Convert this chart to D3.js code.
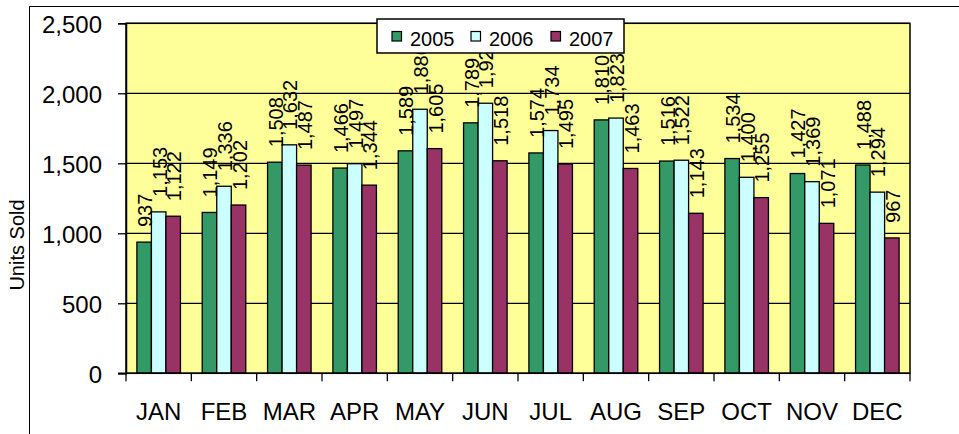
<!DOCTYPE html>
<html>
<head>
<meta charset="utf-8">
<script src="https://cdn.jsdelivr.net/npm/d3@7"></script>
<style>
  html, body { margin: 0; padding: 0; background: #ffffff; }
  svg { display: block; font-family: Arial, "Liberation Sans", sans-serif; }
</style>
</head>
<body>
<svg id="chart" width="959" height="434"></svg>
<script>
const months = ["JAN","FEB","MAR","APR","MAY","JUN","JUL","AUG","SEP","OCT","NOV","DEC"];
const seriesNames = ["2005","2006","2007"];
const values2005 = [937,1149,1508,1466,1589,1789,1574,1810,1516,1534,1427,1488];
const values2006 = [1153,1336,1632,1497,1886,1929,1734,1823,1522,1400,1369,1294];
const values2007 = [1122,1202,1487,1344,1605,1518,1495,1463,1143,1255,1071,967];
const yTicks = [0,500,1000,1500,2000,2500];
const yTitle = "Units Sold";
const colors = ["#339966","#CCFFFF","#993366"];

const seriesValues = [values2005, values2006, values2007];

const svg = d3.select("#chart");
const plot = {left: 126, right: 910, top: 23.3, bottom: 373.3};

// outer chart frame
svg.append("rect")
  .attr("x", 29.5).attr("y", 6.5)
  .attr("width", 1000).attr("height", 500)
  .attr("fill", "#ffffff").attr("stroke", "#000").attr("stroke-width", 1);

const x0 = d3.scaleBand().domain(months).range([plot.left, plot.right]).paddingInner(0).paddingOuter(0);
// gap width 150%: group occupies 3/(3+1.5) of the category
const groupW = x0.bandwidth() * 3 / 4.5;
const x1 = d3.scaleBand().domain(seriesNames).range([0, groupW]).padding(0);
const y = d3.scaleLinear().domain([0, 2500]).range([plot.bottom, plot.top]);

// plot background
svg.append("rect")
  .attr("x", plot.left).attr("y", plot.top)
  .attr("width", plot.right - plot.left).attr("height", plot.bottom - plot.top)
  .attr("fill", "#FFFF99");

// gridlines
svg.append("g").selectAll("line").data(yTicks.filter(d => d > 0)).join("line")
  .attr("x1", plot.left).attr("x2", plot.right)
  .attr("y1", d => y(d)).attr("y2", d => y(d))
  .attr("stroke", "#000").attr("stroke-width", 1.2);

// bars
const groups = svg.append("g").selectAll("g").data(months).join("g")
  .attr("transform", d => `translate(${x0(d) + (x0.bandwidth() - groupW) / 2},0)`);

seriesNames.forEach((s, si) => {
  groups.append("rect")
    .attr("x", x1(s))
    .attr("y", (d, i) => y(seriesValues[si][i]))
    .attr("width", x1.bandwidth())
    .attr("height", (d, i) => y(0) - y(seriesValues[si][i]))
    .attr("fill", colors[si])
    .attr("stroke", "#000").attr("stroke-width", 1.3);
});

// data labels (rotated)
const fmt = d3.format(",");
seriesNames.forEach((s, si) => {
  groups.append("text")
    .attr("transform", (d, i) => {
      const cx = x1(s) + x1.bandwidth() / 2;
      const ty = y(seriesValues[si][i]) - 15;
      return `translate(${cx + 8},${ty}) rotate(-90)`;
    })
    .attr("text-anchor", "start")
    .attr("font-size", 20)
    .attr("fill", "#000")
    .text((d, i) => fmt(seriesValues[si][i]));
});

// plot border
svg.append("rect")
  .attr("x", plot.left).attr("y", plot.top)
  .attr("width", plot.right - plot.left).attr("height", plot.bottom - plot.top)
  .attr("fill", "none").attr("stroke", "#000").attr("stroke-width", 1.5);

// y axis
const yAxis = d3.axisLeft(y).tickValues(yTicks).tickSize(8).tickPadding(16).tickFormat(d3.format(","));
const gy = svg.append("g").attr("transform", `translate(${plot.left},0)`).call(yAxis);
gy.select(".domain").attr("stroke", "#000").attr("stroke-width", 1.5);
gy.selectAll(".tick line").attr("stroke", "#000").attr("stroke-width", 1.3);
gy.selectAll(".tick text").attr("font-size", 24).attr("dy", "0.4em").attr("font-family", "Arial, 'Liberation Sans', sans-serif").attr("fill", "#000");

// x axis
const xAxis = d3.axisBottom(x0).tickSize(0).tickPadding(30);
const gx = svg.append("g").attr("transform", `translate(0,${plot.bottom})`).call(xAxis);
gx.select(".domain").remove();
gx.selectAll(".tick text").attr("font-size", 24).attr("font-family", "Arial, 'Liberation Sans', sans-serif").attr("fill", "#000");
svg.append("line").attr("x1", 118).attr("x2", plot.right).attr("y1", plot.bottom).attr("y2", plot.bottom)
  .attr("stroke", "#000").attr("stroke-width", 1.5);
svg.append("g").selectAll("line").data(months.map((m, i) => i).concat([12])).join("line")
  .attr("x1", i => plot.left + i * x0.bandwidth()).attr("x2", i => plot.left + i * x0.bandwidth())
  .attr("y1", plot.bottom).attr("y2", plot.bottom + 8)
  .attr("stroke", "#000").attr("stroke-width", 1.3);

// y title
svg.append("text")
  .attr("transform", "translate(24,245) rotate(-90)")
  .attr("text-anchor", "middle")
  .attr("font-size", 20)
  .attr("fill", "#000")
  .text(yTitle);

// legend
const lg = svg.append("g").attr("transform", "translate(377,19)");
lg.append("rect").attr("x", 0).attr("y", 0).attr("width", 247).attr("height", 34)
  .attr("fill", "#fff").attr("stroke", "#000").attr("stroke-width", 1.5);
const legendX = [15, 94, 174];
seriesNames.forEach((s, si) => {
  lg.append("rect").attr("x", legendX[si]).attr("y", 12.5).attr("width", 9.5).attr("height", 9.5)
    .attr("fill", colors[si]).attr("stroke", "#000").attr("stroke-width", 1.2);
  lg.append("text").attr("x", legendX[si] + 18).attr("y", 27)
    .attr("font-size", 20).attr("fill", "#000").text(s);
});
</script>
</body>
</html>
